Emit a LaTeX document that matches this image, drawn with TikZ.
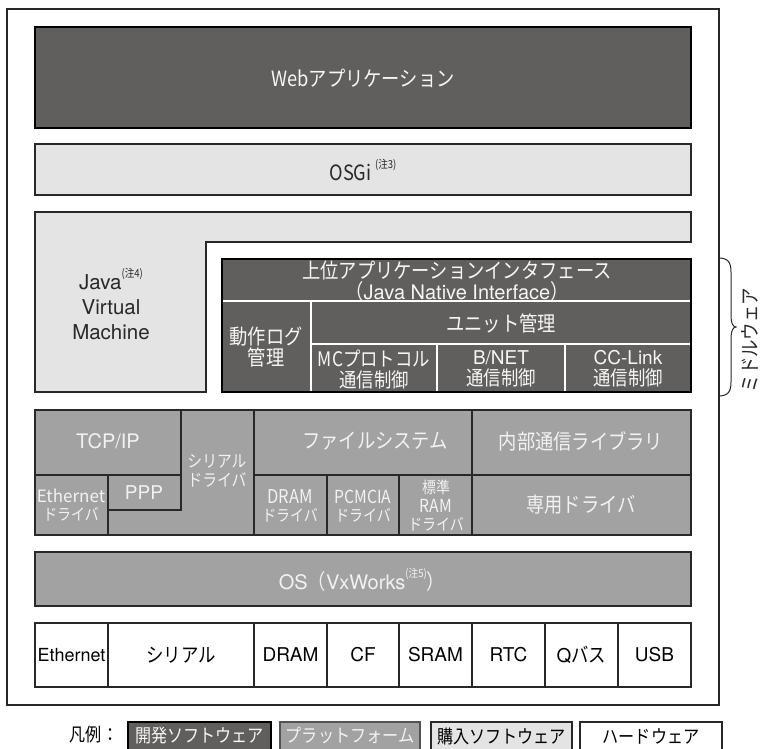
\documentclass[tikz,border=0pt]{standalone}
\usepackage{fontspec}
\setmainfont{Noto Sans CJK JP}
\newfontfamily\jp[FakeStretch=0.87]{Noto Sans CJK JP}
\newfontfamily\hv{TeX Gyre Heros}
\definecolor{dk}{RGB}{96,95,93}
\definecolor{lt}{RGB}{228,228,228}
\definecolor{pl}{RGB}{162,162,162}
\definecolor{bd}{RGB}{40,40,40}
\definecolor{wt}{RGB}{246,246,246}
\definecolor{ptx}{RGB}{242,242,242}
\definecolor{tx}{RGB}{40,40,40}
\newcommand{\noteup}[1]{\raisebox{0.6em}{\jp\fontsize{11}{11}\selectfont(注#1)}}
\begin{document}
\begin{tikzpicture}[x=1pt,y=-1pt,
  frame/.style={draw=bd, line width=1.1pt},
  lbl/.style={inner sep=0pt, align=center},
  fa/.style={font=\jp\fontsize{21}{20.5}\selectfont},
  fb/.style={font=\jp\fontsize{17}{18.5}\selectfont},
  fc/.style={font=\jp\fontsize{16}{18.5}\selectfont},
  fl/.style={font=\jp\fontsize{18.5}{19}\selectfont},
  ha/.style={font=\hv\fontsize{20.5}{25}\selectfont},
  hb/.style={font=\hv\fontsize{20}{20}\selectfont},
  hc/.style={font=\hv\fontsize{19}{19}\selectfont},
  wline/.style={draw=white, line width=1.2pt},
  plc/.style={fill=pl, draw=bd, line width=1.3pt},
  hwc/.style={fill=white, draw=bd, line width=1.2pt}
]
\useasboundingbox (0,0) rectangle (761,749);
\draw[frame] (7,9) rectangle (719,705);
% Web application
\draw[fill=dk, draw=black, line width=2.2pt] (35,27) rectangle (691,128);
\node[lbl, fa, text=wt] (web) at (363,78) {Webアプリケーション};
% OSGi
\draw[fill=lt, draw=bd, line width=1.2pt] (35,144) rectangle (691,195);
\node[lbl, fa, text=tx] (osgi) at (363,170) {OSGi\,\noteup{3}};
% Java VM
\draw[fill=lt, draw=bd, line width=1.2pt] (35,212) -- (691,212) -- (691,242) -- (206,242) -- (206,392) -- (35,392) -- cycle;
\node[lbl, ha, text=tx] (jvm) at (111,304) {Java\noteup{4}\\Virtual\\Machine};
% Middleware
\fill[dk] (222,259) rectangle (691,392);
\draw[wline] (222,301) -- (691,301) (311,301) -- (311,392) (311,344) -- (691,344)
  (437,344) -- (437,392) (565,344) -- (565,392);
\draw[black, line width=2.5pt] (222,259) rectangle (691,392);
\node[lbl, fa, text=wt] (api) at (457,281) {上位アプリケーションインタフェース\\（{\hv\fontsize{20}{20.5}\selectfont Java Native Interface}）};
\node[lbl, fa, text=wt] (log) at (266,347) {動作ログ\\管理};
\node[lbl, fa, text=wt] (unit) at (501,323) {ユニット管理};
\node[lbl, font=\jp\fontsize{20}{21}\selectfont, text=wt] (mc) at (374,369) {MCプロトコル\\通信制御};
\node[lbl, font=\jp\fontsize{20}{21}\selectfont, text=wt] (bnet) at (501,369) {{\hv\fontsize{19}{21}\selectfont B/NET}\\通信制御};
\node[lbl, font=\jp\fontsize{20}{21}\selectfont, text=wt] (cc) at (628,369) {{\hv\fontsize{19}{21}\selectfont CC-Link}\\通信制御};
% brace
\draw[bd, line width=1pt] (718,258) .. controls (728,258) and (731,262) .. (731,272) -- (731,316)
  .. controls (731,323) and (733,327) .. (736,327) .. controls (733,327) and (731,331) .. (731,338)
  -- (731,382) .. controls (731,392) and (728,396) .. (718,396);
\node[lbl, font=\jp\fontsize{20}{20}\selectfont, text=tx, rotate=90] (mw) at (750,340) {ミドルウェア};
% Platform
\draw[plc] (35,410) rectangle (181,475);
\draw[plc] (35,475) rectangle (108,535);
\draw[plc] (108,475) rectangle (181,510);
\draw[plc] (181,410) -- (254,410) -- (254,535) -- (108,535) -- (108,510) -- (181,510) -- cycle;
\draw[plc] (254,410) rectangle (472,475);
\draw[plc] (254,475) rectangle (327,535);
\draw[plc] (327,475) rectangle (399,535);
\draw[plc] (399,475) rectangle (472,535);
\draw[plc] (472,410) rectangle (691,475);
\draw[plc] (472,475) rectangle (691,535);
\node[lbl, hb, text=ptx] (tcp) at (108,441) {TCP/IP};
\node[lbl, fc, text=ptx] (ethd) at (71,505) {{\rmfamily\fontsize{17}{19}\selectfont Ethernet}\\ドライバ};
\node[lbl, hc, text=ptx] (ppp) at (144,493) {PPP};
\node[lbl, fb, text=ptx] (serd) at (217,471) {シリアル\\ドライバ};
\node[lbl, fa, text=ptx] (fs) at (375,441) {ファイルシステム};
\node[lbl, fc, text=ptx] (dramd) at (290,506) {{\fontsize{19}{19}\selectfont DRAM}\\ドライバ};
\node[lbl, fc, text=ptx] (pcd) at (363,506) {{\fontsize{18}{19}\selectfont PCMCIA}\\ドライバ};
\node[lbl, fc, text=ptx] (ramd) at (436,506) {標準\\{\fontsize{18}{18.5}\selectfont RAM}\\ドライバ};
\node[lbl, fa, text=ptx] (lib) at (581,441) {内部通信ライブラリ};
\node[lbl, fa, text=ptx] (sen) at (581,505) {専用ドライバ};
% OS
\draw[plc] (35,552) rectangle (691,606);
\node[lbl, fa, text=ptx] (os) at (362,580) {{\hv\fontsize{20}{20}\selectfont OS}（{\hv\fontsize{20}{20}\selectfont VxWorks}\noteup{5}）};
% Hardware
\draw[hwc] (35,623) rectangle (108,687);
\draw[hwc] (108,623) rectangle (254,687);
\draw[hwc] (254,623) rectangle (327,687);
\draw[hwc] (327,623) rectangle (399,687);
\draw[hwc] (399,623) rectangle (472,687);
\draw[hwc] (472,623) rectangle (545,687);
\draw[hwc] (545,623) rectangle (618,687);
\draw[hwc] (618,623) rectangle (691,687);
\node[lbl, font=\hv\fontsize{18}{18}\selectfont, text=black] (h1) at (71.5,655) {Ethernet};
\node[lbl, font=\jp\fontsize{20}{20}\selectfont, text=black] (h2) at (181,655) {シリアル};
\node[lbl, hc, text=black] (h3) at (290.5,655) {DRAM};
\node[lbl, hc, text=black] (h4) at (363,655) {CF};
\node[lbl, hc, text=black] (h5) at (435.5,655) {SRAM};
\node[lbl, hc, text=black] (h6) at (508.5,655) {RTC};
\node[lbl, font=\jp\fontsize{20}{20}\selectfont, text=black] (h7) at (581.5,655) {{\hv\fontsize{19}{19}\selectfont Q}バス};
\node[lbl, hc, text=black] (h8) at (654.5,655) {USB};
% Legend
\node[lbl, fl, text=black] (hanrei) at (94,735) {凡例：};
\draw[fill=dk, draw=black, line width=2pt] (128,722) rectangle (271,752);
\node[lbl, fl, text=wt] (lg1) at (199.5,736) {開発ソフトウェア};
\draw[fill=pl, draw=bd!80, line width=1.2pt] (280,722) rectangle (420,752);
\node[lbl, fl, text=ptx] (lg2) at (350,736) {プラットフォーム};
\draw[fill=lt, draw=bd, line width=1.2pt] (431,722) rectangle (572,752);
\node[lbl, fl, text=black] (lg3) at (501.5,736) {購入ソフトウェア};
\draw[fill=white, draw=bd, line width=1.2pt] (580,722) rectangle (722,752);
\node[lbl, fl, text=black] (lg4) at (651,736) {ハードウェア};
\end{tikzpicture}
\end{document}
